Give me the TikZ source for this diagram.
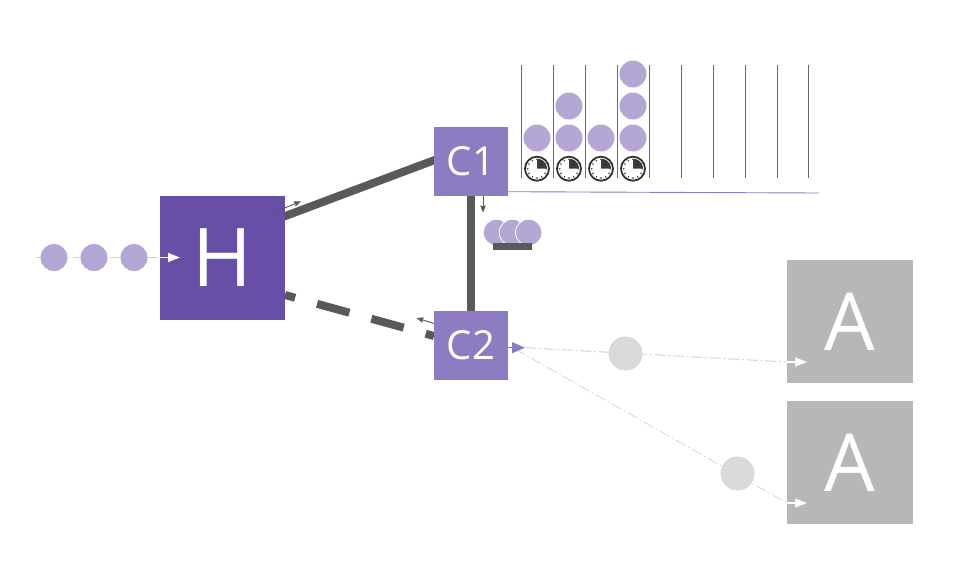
\documentclass[tikz,border=0pt]{standalone}
\usepackage{fontspec}
\setmainfont{Open Sans}
\usetikzlibrary{arrows.meta}
\definecolor{hcol}{HTML}{674EA7}
\definecolor{ccol}{HTML}{8E7CC3}
\definecolor{dotcol}{HTML}{B4A7D6}
\definecolor{acol}{HTML}{B7B7B7}
\definecolor{gdot}{HTML}{D9D9D9}
\definecolor{dark}{HTML}{595959}
\tikzset{
  box/.style={draw=none,minimum width=#1,minimum height=#1,inner sep=0pt,text=white,anchor=center},
  token/.style={circle,fill=dotcol,draw=none,minimum size=27pt,inner sep=0pt},
  stacktoken/.style={circle,fill=dotcol,draw=white,line width=0.8pt,minimum size=26.5pt,inner sep=0pt},
  gtoken/.style={circle,fill=gdot,draw=none,minimum size=34pt,inner sep=0pt},
  link/.style={draw=dark,line width=8pt},
  flow/.style={draw=gdot!90!gray,line width=0.9pt,dash pattern=on 11pt off 3pt on 1.5pt off 3pt},
  whitetip/.style={draw=white,line width=1.3pt,-{Triangle[length=12pt,width=9pt,fill=white]}},
  small/.style={draw=dark,line width=0.9pt,-{Stealth[length=7pt,width=5.5pt,inset=0.8pt]}},
  rail/.style={draw=dark!90,line width=1pt},
  clock/.pic={
    \draw[draw=black!80,fill=white,line width=1.8pt] (0,0) circle [radius=12pt];
    \fill[black!78] (0pt,0pt) -- (0pt,10pt) arc [start angle=90,end angle=0,radius=10pt] -- cycle;
    \foreach \a in {0,30,...,330}{\fill[black!80] (\a:9.3pt) circle [radius=0.85pt];}
  }
}
\begin{document}
\begin{tikzpicture}[x=1pt,y=-1pt]
\useasboundingbox[fill=white] (0,0) rectangle (958,566);
% input flow
\coordinate (inStart) at (36,257.5);
\coordinate (inEnd) at (167,257.5);
\coordinate (inTip) at (180,257.5);
\coordinate (hEdge) at (160,257.5);
\draw[flow] (inStart) -- (inEnd);
% thick links
\coordinate (h1) at (280,218);
\coordinate (c1a) at (440,158);
\coordinate (h2) at (285,295);
\coordinate (c2a) at (434,336);
\draw[link] (h1) -- (c1a);
\draw[link,dash pattern=on 33.5pt off 22.8pt,dash phase=23pt] (h2) -- (c2a);
% rails
\foreach \x/\n in {521.3/r1,553.3/r2,585.3/r3,617.3/r4,649.3/r5,681/r6,713/r7,745/r8,777/r9,808.5/r10}{
  \coordinate (\n t) at (\x,64.5);
  \coordinate (\n b) at (\x,177.5);
  \draw[rail] (\n t) -- (\n b);
}
\node[box=0pt,minimum width=125pt,minimum height=124pt,fill=hcol,font=\fontsize{81}{81}\selectfont] (H) at (222.5,258) {H};
\node[box=0pt,minimum width=74pt,minimum height=69pt,fill=ccol,font=\fontsize{40}{40}\selectfont] (C1) at (471,161.5) {C1};
\node[box=0pt,minimum width=74pt,minimum height=69pt,fill=ccol,font=\fontsize{40}{40}\selectfont] (C2) at (471,345.5) {C2};
\draw[link] (C1.south) -- (C2.north);
\node[box=0pt,minimum width=126pt,minimum height=123pt,fill=acol,font=\fontsize{80}{80}\selectfont] (A1) at (850,321.5) {A};
\node[box=0pt,minimum width=126pt,minimum height=123pt,fill=acol,font=\fontsize{80}{80}\selectfont] (A2) at (850,462.5) {A};
% input tokens
\node[token] (i1) at (54,257.5) {};
\node[token] (i2) at (94,257.5) {};
\node[token] (i3) at (134,257.5) {};
\draw[whitetip] (hEdge) -- (inTip);
% queue
\node[token] (q1a) at (537,138) {};
\node[token] (q2a) at (569,138) {};
\node[token] (q2b) at (569,106) {};
\node[token] (q3a) at (601,138) {};
\node[token] (q4a) at (633,138) {};
\node[token] (q4b) at (633,106) {};
\node[token] (q4c) at (633,74) {};
\foreach \x in {537,569,601,633}{\pic at (\x,168.7) {clock};}
\coordinate (baseEnd) at (819,193);
\coordinate (baseStart) at (508,191.7);
\draw[draw=ccol,line width=0.9pt] (baseStart) -- (baseEnd);
% small arrows
\coordinate (s1a) at (273,212.7);\coordinate (s1b) at (301,201.3);
\coordinate (s2a) at (434,323.5);\coordinate (s2b) at (416.5,318);
\coordinate (s3a) at (483,196);\coordinate (s3b) at (483,212.5);
\draw[small] (s1a) -- (s1b);
\draw[small] (s2a) -- (s2b);
\draw[small] (s3a) -- (s3b);
% stack
\node[stacktoken] (st1) at (496.5,232.5) {};
\node[stacktoken] (st2) at (512.5,232.5) {};
\node[stacktoken] (st3) at (528.7,232.5) {};
\node[fill=dark,draw=none,minimum width=38.7pt,minimum height=7.7pt,inner sep=0pt] (bar) at (512.7,246.5) {};
% output flows
\coordinate (o0) at (525,347.7);
\coordinate (o1) at (787,362);
\coordinate (o1t) at (807,362);
\coordinate (o2) at (515,349);
\coordinate (o2e) at (787,503);
\coordinate (o2t) at (807,503);
\draw[flow] (o0) -- (o1);
\draw[flow,line width=0.7pt] (o2) -- (o2e);
\node[gtoken] (g1) at (625.5,353.5) {};
\node[gtoken] (g2) at (737.5,473.5) {};
\draw[whitetip] (o1) -- (o1t);
\draw[whitetip] (o2e) -- (o2t);
\draw[draw=ccol,line width=1.3pt,-{Triangle[length=13pt,width=11pt,fill=ccol]}] (C2.east |- o0) -- (o0);
\end{tikzpicture}
\end{document}
